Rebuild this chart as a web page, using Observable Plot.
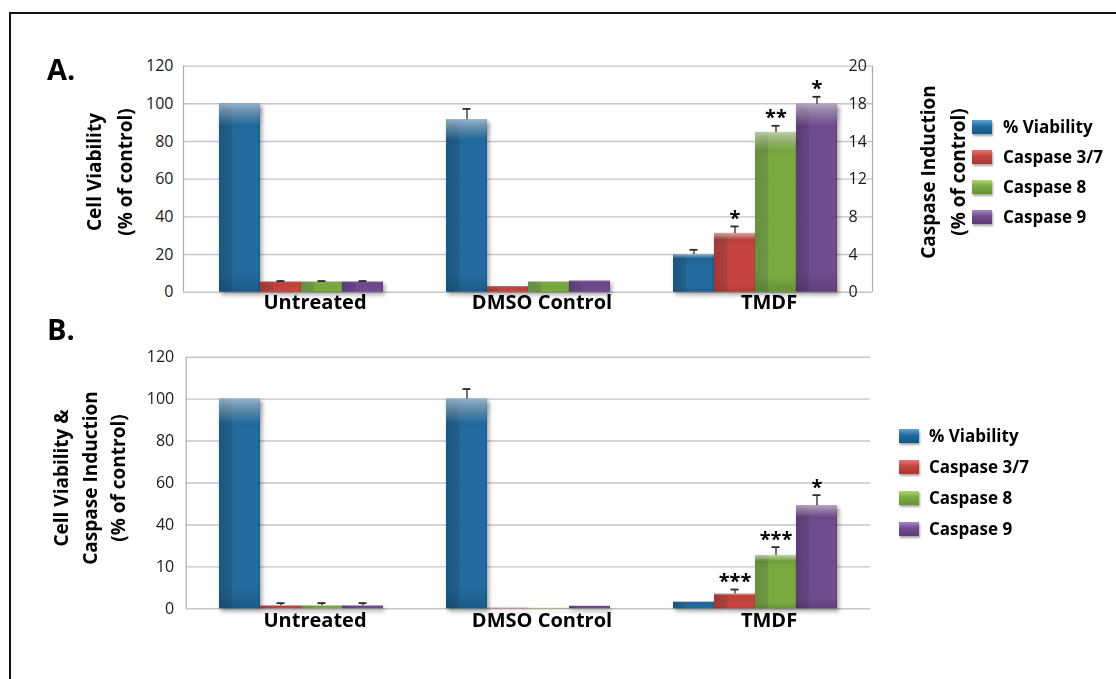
<!DOCTYPE html>
<html>
<head>
<meta charset="utf-8">
<script src="https://cdn.jsdelivr.net/npm/d3@7"></script>
<script src="https://cdn.jsdelivr.net/npm/@observablehq/plot@0.6"></script>
<style>
  body { margin: 0; background: #fff; font-family: "Open Sans", Lato, sans-serif; }
  #fig { position: relative; width: 1116px; height: 679px; overflow: hidden; background: #fff; }
  #fig > svg.plot-layer { position: absolute; left: 0; top: 0; }
  .frame { position: absolute; left: 9px; top: 12px; width: 1400px; height: 1000px; border: 2.5px solid #111; }
  .panel { position: absolute; font-weight: 700; font-size: 29px; line-height: 1; color: #000; }
  .title { position: absolute; font-weight: 700; font-size: 19px; white-space: nowrap; text-align: center;
           color: #000; transform: translate(-50%, -50%) rotate(-90deg); }
  .legend-row { position: absolute; height: 0; white-space: nowrap; font-weight: 700; font-size: 17px; color: #000; }
  .legend-row .sw { position: absolute; left: 0; top: -7px; width: 20px; height: 14px;
                    box-shadow: 1px 2px 2px rgba(0,0,0,0.35); }
  .legend-row .lb { position: absolute; top: -12px; line-height: 24px; }
</style>
</head>
<body>
<div id="fig">
  <div class="frame"></div>
</div>
<script>
// ---- categories and series ----
const groups = ["Untreated", "DMSO Control", "TMDF"];
const series = ["% Viability", "Caspase 3/7", "Caspase 8", "Caspase 9"];

// ---- panel A: viability (left axis) and caspase induction (right axis) ----
const aLeftTicks = [0, 20, 40, 60, 80, 100, 120];
const aRightTicks = [0, 4, 8, 12, 14, 18, 20];
const aViability = [100, 91.5, 20];
const aViabilityErr = [0, 5.8, 2.5];
const aCasp37 = [1.1, 0.6, 6.24];
const aCasp37Err = [0.08, 0, 0.74];
const aCasp37Sig = ["", "", "*"];
const aCasp8 = [1.1, 1.1, 14.96];
const aCasp8Err = [0.08, 0, 0.7];
const aCasp8Sig = ["", "", "**"];
const aCasp9 = [1.1, 1.2, 17.96];
const aCasp9Err = [0.08, 0, 0.41];
const aCasp9Sig = ["", "", "*"];

// ---- panel B: everything on one axis ----
const bTicks = [0, 10, 40, 60, 80, 100, 120];
const bViability = [100, 100, 1.6];
const bViabilityErr = [0, 4.8, 0];
const bCasp37 = [0.7, 0.15, 3.5];
const bCasp37Err = [0.65, 0, 1.1];
const bCasp37Sig = ["", "", "***"];
const bCasp8 = [0.7, 0.1, 18.1];
const bCasp8Err = [0.65, 0, 6.0];
const bCasp8Sig = ["", "", "***"];
const bCasp9 = [0.7, 0.6, 49.2];
const bCasp9Err = [0.65, 0, 5.0];
const bCasp9Sig = ["", "", "*"];

// ---- styling ----
const palette = [
  {dark: "#165784", base: "#216b9f", light: "#5aa7de"},
  {dark: "#a63733", base: "#c5443f", light: "#ea7470"},
  {dark: "#66923a", base: "#7aa940", light: "#acd870"},
  {dark: "#5c3b78", base: "#704b8f", light: "#a886cb"}
];
const W = 1116, H = 679;
const A = {left: 183, right: 872, top: 65.6, bottom: 291.7};
const B = {left: 183, right: 872, top: 356.7, bottom: 608.3, gridLeft: 185.7, gridRight: 870};
const font = "'Open Sans', Lato, sans-serif";
const svgStyle = {background: "none", overflow: "visible", fontFamily: font, fontSize: "16px", color: "#1a1a1a"};

const fig = document.getElementById("fig");

// gradients shared by every chart layer
const ns = "http://www.w3.org/2000/svg";
const defsSvg = document.createElementNS(ns, "svg");
defsSvg.setAttribute("width", 0); defsSvg.setAttribute("height", 0);
defsSvg.style.position = "absolute";
let defs = `<defs>`;
palette.forEach((c, i) => {
  defs += `<linearGradient id="bar${i}" x1="0" x2="1" y1="0" y2="0">
    <stop offset="0" stop-color="${c.dark}"/><stop offset="0.3" stop-color="${c.dark}" stop-opacity="0.9"/>
    <stop offset="0.34" stop-color="${c.base}"/><stop offset="0.96" stop-color="${c.base}"/>
    <stop offset="1" stop-color="${c.dark}"/></linearGradient>`;
});
defs += `<linearGradient id="sheen" x1="0" x2="0" y1="0" y2="1">
    <stop offset="0" stop-color="#fff" stop-opacity="0.5"/><stop offset="0.05" stop-color="#fff" stop-opacity="0.3"/>
    <stop offset="0.12" stop-color="#fff" stop-opacity="0"/><stop offset="0.9" stop-color="#000" stop-opacity="0"/>
    <stop offset="1" stop-color="#000" stop-opacity="0.12"/></linearGradient></defs>`;
defsSvg.innerHTML = defs;
fig.appendChild(defsSvg);

const fills = series.map((_, i) => `url(#bar${i})`);

function rowsFor(values, errs, sigs, s) {
  return groups.map((g, i) => ({group: g, series: s, value: values[i], err: errs[i], sig: sigs ? sigs[i] : ""}));
}

function equalSteps(ticks, bottom, top) {
  return ticks.map((_, i) => bottom - i * (bottom - top) / (ticks.length - 1));
}

function barMarks(data, withGroupLabels, labelDy) {
  const errs = data.filter(d => d.err > 0);
  const sigs = data.filter(d => d.sig);
  const marks = [
    Plot.barY(data, {fx: "group", x: "series", y: "value", fill: "series"}),
    Plot.barY(data, {fx: "group", x: "series", y: "value", fill: "url(#sheen)"}),
    Plot.ruleX(errs, {fx: "group", x: "series", y1: "value", y2: d => d.value + d.err, stroke: "#2a2a2a", strokeWidth: 1.3}),
    Plot.tickY(errs, {fx: "group", x: "series", y: d => d.value + d.err, stroke: "#2a2a2a", strokeWidth: 1.8, insetLeft: 16.5, insetRight: 16.5}),
    Plot.text(sigs, {fx: "group", x: "series", y: d => d.value + d.err, text: "sig", dy: -8, fontSize: 20, fontWeight: "bold", fill: "#000"})
  ];
  if (withGroupLabels) {
    marks.push(Plot.text(groups, {fx: d => d, text: d => d, frameAnchor: "bottom", dy: labelDy, dx: 14,
      fontSize: 20, fontWeight: "bold", fill: "#000"}));
  }
  return marks;
}

function addLayer(svg) {
  svg.classList.add("plot-layer");
  svg.querySelectorAll('g[aria-label="bar"]:not([fill])').forEach(g => {
    g.style.filter = "drop-shadow(2px 3px 2px rgba(0,0,0,0.35))";
  });
  fig.appendChild(svg);
}

const fxScale = {domain: groups, axis: null, paddingInner: 0.266, paddingOuter: 0.15};
const xScale = {domain: series, axis: null, padding: 0};
const colorScale = {domain: series, range: fills};

// ---------- Panel A ----------
const aGrid = Plot.plot({
  width: W, height: H, style: svgStyle,
  marginLeft: A.left, marginRight: W - A.right, marginTop: A.top, marginBottom: H - A.bottom,
  x: {domain: [0, 1], axis: null},
  y: {domain: [0, 120], ticks: aLeftTicks, tickSize: 0, tickPadding: 10, label: null},
  marks: [
    Plot.ruleY(aLeftTicks, {stroke: "#c6c6c6", strokeWidth: 1.4}),
    Plot.ruleX([0, 1], {stroke: "#aaaaaa", strokeWidth: 1.2})
  ]
});
addLayer(aGrid);

const aViabilityRows = rowsFor(aViability, aViabilityErr, null, series[0]);
const aViabilityPlot = Plot.plot({
  width: W, height: H, style: svgStyle,
  marginLeft: A.left, marginRight: W - A.right, marginTop: A.top, marginBottom: H - A.bottom,
  fx: fxScale, x: xScale, color: colorScale,
  y: {domain: [0, 120], axis: null},
  marks: barMarks(aViabilityRows, true, 17)
});
addLayer(aViabilityPlot);

const aCaspRows = [
  ...rowsFor(aCasp37, aCasp37Err, aCasp37Sig, series[1]),
  ...rowsFor(aCasp8, aCasp8Err, aCasp8Sig, series[2]),
  ...rowsFor(aCasp9, aCasp9Err, aCasp9Sig, series[3])
];
const aCaspPlot = Plot.plot({
  width: W, height: H, style: svgStyle,
  marginLeft: A.left, marginRight: W - A.right, marginTop: A.top, marginBottom: H - A.bottom,
  fx: fxScale, x: xScale, color: colorScale,
  y: {type: "linear", domain: aRightTicks, range: equalSteps(aRightTicks, A.bottom, A.top),
      ticks: aRightTicks, axis: "right", tickSize: 0, tickPadding: 10, label: null},
  marks: barMarks(aCaspRows, false)
});
addLayer(aCaspPlot);

// ---------- Panel B ----------
const bRange = equalSteps(bTicks, B.bottom, B.top);
const bGrid = Plot.plot({
  width: W, height: H, style: svgStyle,
  marginLeft: B.gridLeft, marginRight: W - B.gridRight, marginTop: B.top, marginBottom: H - B.bottom,
  x: {domain: [0, 1], axis: null},
  y: {type: "linear", domain: bTicks, range: bRange, ticks: bTicks, tickSize: 0, tickPadding: 12, label: null},
  marks: [
    Plot.ruleY(bTicks, {stroke: "#c6c6c6", strokeWidth: 1.4}),
    Plot.ruleX([0], {stroke: "#aaaaaa", strokeWidth: 1.2})
  ]
});
addLayer(bGrid);

const bRows = [
  ...rowsFor(bViability, bViabilityErr, null, series[0]),
  ...rowsFor(bCasp37, bCasp37Err, bCasp37Sig, series[1]),
  ...rowsFor(bCasp8, bCasp8Err, bCasp8Sig, series[2]),
  ...rowsFor(bCasp9, bCasp9Err, bCasp9Sig, series[3])
];
const bPlot = Plot.plot({
  width: W, height: H, style: svgStyle,
  marginLeft: B.left, marginRight: W - B.right, marginTop: B.top, marginBottom: H - B.bottom,
  fx: fxScale, x: xScale, color: colorScale,
  y: {type: "linear", domain: bTicks, range: bRange, axis: null},
  marks: barMarks(bRows, true, 18)
});
addLayer(bPlot);

// ---------- text: panel letters, axis titles, legends ----------
function addDiv(cls, html, css) {
  const d = document.createElement("div");
  d.className = cls;
  d.innerHTML = html;
  Object.assign(d.style, css);
  fig.appendChild(d);
  return d;
}
addDiv("panel", "A.", {left: "47px", top: "54px"});
addDiv("panel", "B.", {left: "47px", top: "314px"});

addDiv("title", "Cell Viability<br>(% of control)", {left: "110px", top: "172px", lineHeight: "31px"});
addDiv("title", "Caspase Induction<br>(% of control)", {left: "943px", top: "172px", lineHeight: "30px"});
addDiv("title", "Cell Viability &amp;<br>Caspase Induction<br>(% of control)", {left: "90px", top: "478px", lineHeight: "28.5px"});

function legend(x, y0, step, labelX) {
  series.forEach((s, i) => {
    const c = palette[i];
    const row = addDiv("legend-row", "", {left: x + "px", top: (y0 + i * step) + "px"});
    const sw = document.createElement("div");
    sw.className = "sw";
    sw.style.background = `linear-gradient(to bottom, ${c.light} 0%, ${c.base} 45%, ${c.dark} 100%)`;
    row.appendChild(sw);
    const lb = document.createElement("div");
    lb.className = "lb";
    lb.style.left = (labelX - x) + "px";
    lb.textContent = s;
    row.appendChild(lb);
  });
}
legend(972, 127, 30, 1003);
legend(899, 436, 31, 929);
</script>
</body>
</html>
